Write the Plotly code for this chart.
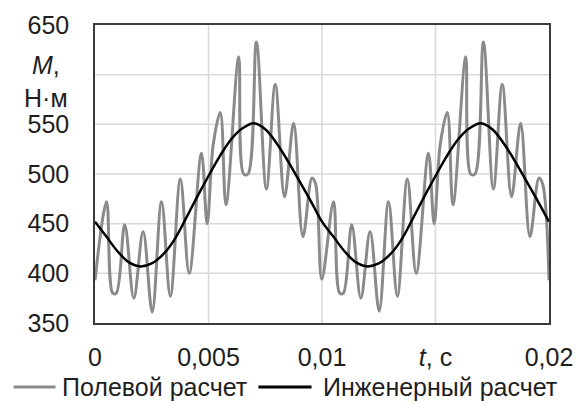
import plotly.graph_objects as go

# Field calculation (Полевой расчет) – read peaks/troughs, t in s, M in N·m
field_t = [0.0, 0.00051, 0.00078, 0.00094, 0.00131, 0.00171, 0.00212, 0.00252, 0.00293,
           0.00332, 0.00376, 0.00415, 0.00469, 0.00494, 0.00521, 0.00552, 0.00577,
           0.00633, 0.00655, 0.00674, 0.00711, 0.00755, 0.00794, 0.00835, 0.00875,
           0.00916, 0.00956, 0.00972, 0.00999,
           0.01051, 0.01078, 0.01094, 0.01131, 0.01171, 0.01212, 0.01252, 0.01293,
           0.01332, 0.01376, 0.01415, 0.01469, 0.01494, 0.01521, 0.01552, 0.01577,
           0.01633, 0.01655, 0.01674, 0.01711, 0.01755, 0.01794, 0.01835, 0.01875,
           0.01916, 0.01956, 0.01972, 0.02]
field_m = [393, 472, 380, 380, 449, 375, 442, 361, 472,
           377, 495, 400, 521, 450, 530, 562, 469,
           618, 500, 500, 633, 485, 590, 477, 551,
           437, 496, 490, 394,
           472, 380, 380, 449, 375, 442, 362, 472,
           377, 495, 400, 521, 450, 530, 562, 469,
           618, 500, 500, 633, 485, 590, 477, 551,
           437, 496, 490, 393]

# Engineering calculation (Инженерный расчет)
eng_t = [0.0, 0.0005, 0.001, 0.0015, 0.002, 0.0025, 0.003, 0.0035, 0.004, 0.0045,
         0.005, 0.0055, 0.006, 0.0065, 0.007, 0.0075, 0.008, 0.0085, 0.009, 0.0095,
         0.01, 0.0105, 0.011, 0.0115, 0.012, 0.0125, 0.013, 0.0135, 0.014, 0.0145,
         0.015, 0.0155, 0.016, 0.0165, 0.017, 0.0175, 0.018, 0.0185, 0.019, 0.0195, 0.02]
eng_m = [452, 437, 422, 411, 407, 410, 419, 434, 455, 477,
         498, 518, 535, 546, 551, 545, 531, 513, 493, 473,
         452, 437, 422, 411, 407, 410, 419, 434, 455, 477,
         498, 518, 535, 546, 551, 545, 531, 513, 493, 473, 452]

series_names = ["Полевой расчет", "Инженерный расчет"]
series_colors = ["#8a8a8a", "#000000"]

x_tickvals = [0, 0.005, 0.01, 0.015, 0.02]
x_ticktext = ["0", "0,005", "0,01", "<i>t</i>, с", "0,02"]
y_tickvals = [350, 400, 450, 500, 550, 650]
y_ticktext = ["350", "400", "450", "500", "550", "650"]
y_gridvals = [400, 450, 500, 550, 600]

FONT = "Liberation Sans, Arial, sans-serif"
TXT = "#1e1e1e"
FS = 25

fig = go.Figure()
fig.add_trace(go.Scatter(x=field_t, y=field_m, mode="lines", name=series_names[0],
                         line=dict(color=series_colors[0], width=3, shape="spline", smoothing=1.0)))
fig.add_trace(go.Scatter(x=eng_t, y=eng_m, mode="lines", name=series_names[1],
                         line=dict(color=series_colors[1], width=2.5, shape="spline", smoothing=1.0)))

# gridlines
for v in y_gridvals:
    fig.add_shape(type="line", xref="paper", yref="y", x0=0, x1=1, y0=v, y1=v,
                  line=dict(color="#d9d9d9", width=1.5), layer="below")
for v in [0.005, 0.01, 0.015]:
    fig.add_shape(type="line", xref="x", yref="paper", x0=v, x1=v, y0=0, y1=1,
                  line=dict(color="#d9d9d9", width=1.5), layer="below")

# page has an 8px body margin -> figure is 576x395 placed at (8, 8)
fig.update_layout(
    width=576, height=395,
    margin=dict(l=86.5, r=35.3, t=17, b=80, autoexpand=False),
    paper_bgcolor="white", plot_bgcolor="white",
    font=dict(family=FONT, size=FS, color=TXT),
    showlegend=False,
    xaxis=dict(range=[0, 0.02], tickvals=x_tickvals, ticktext=x_ticktext,
               showgrid=False, zeroline=False, showline=True, mirror=True,
               linecolor="#3a3a3a", linewidth=1.5, ticks="", ticklabelstandoff=11,
               tickfont=dict(size=FS, color=TXT), automargin=False),
    yaxis=dict(range=[350, 650], tickvals=y_tickvals, ticktext=y_ticktext,
               showgrid=False, zeroline=False, showline=True, mirror=True,
               linecolor="#3a3a3a", linewidth=1.5, ticks="", ticklabelstandoff=19,
               tickfont=dict(size=FS, color=TXT), automargin=False),
)

# y-axis title
fig.add_annotation(xref="paper", yref="paper", x=-0.109, y=0.812, xanchor="center",
                   yanchor="middle", showarrow=False, align="center",
                   text="<i>M</i>,<br>Н·м", font=dict(size=FS, color=TXT, family=FONT))

# manual legend (below the plot)
leg_y = -0.2148
leg_items = [(-0.1794, -0.0870, -0.0760), (0.360, 0.477, 0.4987)]
for (x0, x1, xt), name, col in zip(leg_items, series_names, series_colors):
    fig.add_shape(type="line", xref="paper", yref="paper", x0=x0, x1=x1, y0=leg_y, y1=leg_y,
                  line=dict(color=col, width=3))
    fig.add_annotation(xref="paper", yref="paper", x=xt, y=leg_y, xanchor="left",
                       yanchor="middle", showarrow=False, text=name,
                       font=dict(size=FS, color=TXT, family=FONT))

fig.write_html("out.html")
